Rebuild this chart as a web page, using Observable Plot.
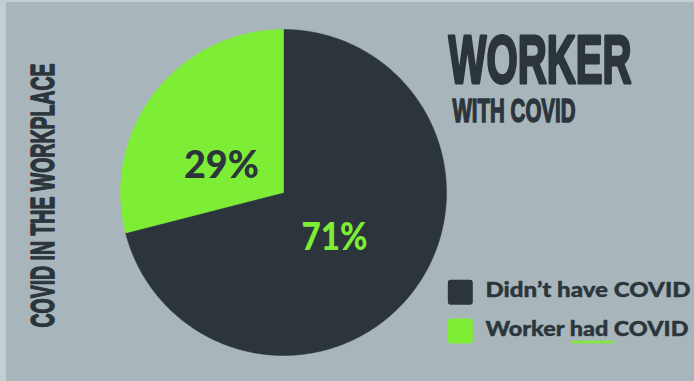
<!DOCTYPE html>
<html><head><meta charset="utf-8">
<script src="https://cdn.jsdelivr.net/npm/d3@7"></script>
<script src="https://cdn.jsdelivr.net/npm/@observablehq/plot@0.6"></script>
<style>html,body{margin:0;padding:0;background:#c5ced2;} #chart svg{display:block}</style>
</head><body><div id="chart"></div>
<script>
const categories = ["Didn’t have COVID", "Worker had COVID"];
const values = [71, 29];
const percentLabels = ["71%", "29%"];
const colors = ["#2b353b", "#7eed36"];
const titleText = "WORKER";
const subtitleText = "WITH COVID";
const sideText = "COVID IN THE WORKPLACE";

const dark = colors[0], green = colors[1];

const arcs = d3.pie().sort(null)(values);
const slices = arcs.flatMap((a, i) => {
  const n = Math.max(2, Math.ceil((a.endAngle - a.startAngle) / (Math.PI / 360)));
  const pts = [{category: categories[i], x: 0, y: 0}];
  for (let k = 0; k <= n; k++) {
    const t = a.startAngle + (a.endAngle - a.startAngle) * k / n;
    pts.push({category: categories[i], x: Math.sin(t), y: Math.cos(t)});
  }
  pts.push({category: categories[i], x: 0, y: 0});
  return pts;
});
const labelData = arcs.map((a, i) => {
  const m = (a.startAngle + a.endAngle) / 2;
  return {category: categories[i], label: percentLabels[i], x: 0.42 * Math.sin(m), y: 0.42 * Math.cos(m)};
});

const legendMarks = categories.flatMap((c, i) => [
  Plot.dot([c], {frameAnchor: "top-left", dx: 459.8, dy: 291.8 + i * 38.6, symbol: "square", r: 10.7,
    fill: colors[i], stroke: colors[i], strokeWidth: 6, strokeLinejoin: "round"}),
  Plot.text([c], {frameAnchor: "top-left", text: d => d, dx: 485, dy: 296.7 + i * 38.6,
    textAnchor: "start", lineAnchor: "bottom", fontSize: 21, fontWeight: 900, fontFamily: "Lato",
    fill: dark, stroke: dark, strokeWidth: 0.4})
]);

const chart = Plot.plot({
  width: 694, height: 381, margin: 0,
  x: {domain: [-1, 1], range: [120, 446], axis: null},
  y: {domain: [-1, 1], range: [355, 29], axis: null},
  color: {domain: categories, range: colors},
  style: {background: "#a8b5bb"},
  marks: [
    () => {
      const g = d3.create("svg:g");
      g.append("rect").attr("x", 0).attr("y", 0).attr("width", 6).attr("height", 381).attr("fill", "#c5ced2");
      g.append("rect").attr("x", 0).attr("y", 0).attr("width", 694).attr("height", 2).attr("fill", "#c5ced2");
      return g.node();
    },
    Plot.line(slices, {x: "x", y: "y", z: "category", fill: "category", stroke: "category", strokeWidth: 0.5, curve: "linear"}),
    Plot.text(labelData.filter(d => d.category === categories[1]), {x: "x", y: "y", text: "label",
      fill: dark, fontSize: 37, fontWeight: 900, fontFamily: "Lato", textAnchor: "middle", lineAnchor: "bottom",
      dx: -8, dy: 27}),
    Plot.text(labelData.filter(d => d.category === categories[0]), {x: "x", y: "y", text: "label",
      fill: green, fontSize: 37, fontWeight: 900, fontFamily: "Lato", textAnchor: "middle", lineAnchor: "bottom",
      dx: -3, dy: 16}),
    Plot.text([titleText], {frameAnchor: "top-left", text: d => d, dx: 448, dy: 82, textAnchor: "start", lineAnchor: "bottom",
      fontSize: 68, fontWeight: "bold", fontFamily: "Liberation Sans", fill: dark, stroke: dark, strokeWidth: 3}),
    Plot.text([subtitleText], {frameAnchor: "top-left", text: d => d, dx: 452, dy: 121, textAnchor: "start", lineAnchor: "bottom",
      fontSize: 33, fontWeight: "bold", fontFamily: "Liberation Sans", fill: dark, stroke: dark, strokeWidth: 1.5}),
    Plot.text([sideText], {frameAnchor: "top-left", text: d => d, dx: 53, dy: 195, rotate: -90, textAnchor: "middle", lineAnchor: "bottom",
      fontSize: 34, fontWeight: "bold", fontFamily: "Liberation Sans", fill: dark, stroke: dark, strokeWidth: 1.5}),
    ...legendMarks,
    () => d3.create("svg:line").attr("x1", 572).attr("x2", 613).attr("y1", 342).attr("y2", 342)
      .attr("stroke", green).attr("stroke-width", 2.5).attr("stroke-linecap", "round").node()
  ]
});

const lengths = new Map([
  [titleText, 183], [subtitleText, 123], [sideText, 264],
  [categories[0], 205], [categories[1], 203],
  [percentLabels[1], 75], [percentLabels[0], 66]
]);
chart.querySelectorAll("text").forEach(t => {
  const len = lengths.get(t.textContent);
  if (len) { t.setAttribute("textLength", len); t.setAttribute("lengthAdjust", "spacingAndGlyphs"); }
});

document.getElementById("chart").appendChild(chart);
</script>
</body></html>
